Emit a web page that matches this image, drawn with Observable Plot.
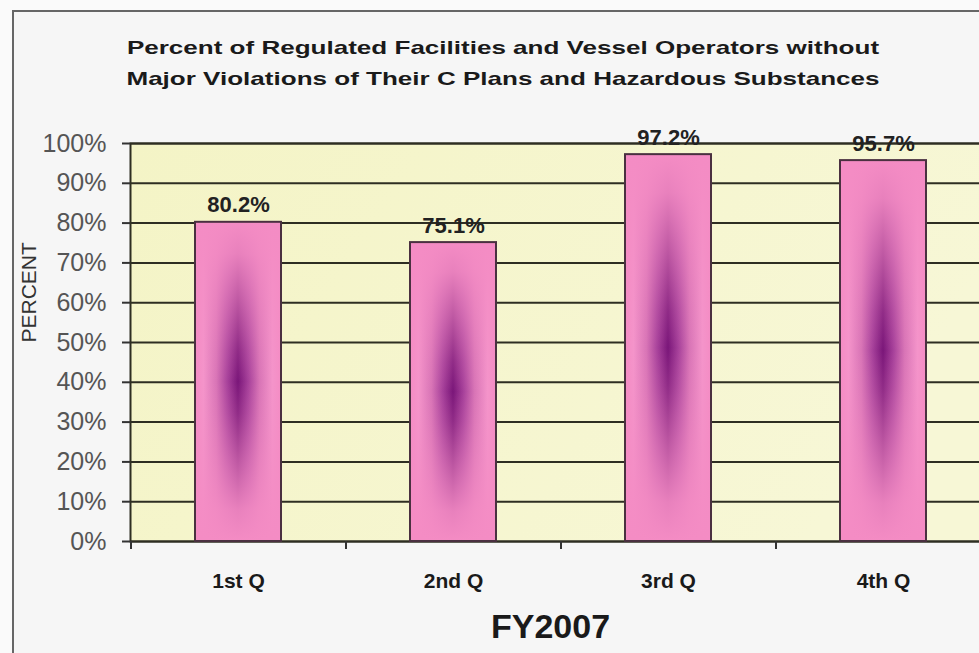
<!DOCTYPE html>
<html>
<head>
<meta charset="utf-8">
<script src="https://cdn.jsdelivr.net/npm/d3@7"></script>
<script src="https://cdn.jsdelivr.net/npm/@observablehq/plot@0.6"></script>
<style>
  html, body { margin: 0; padding: 0; background: #fafafa; }
  #wrap { position: relative; width: 979px; height: 653px; overflow: hidden; font-family: "Liberation Sans", Arial, sans-serif; }
  #panel { position: absolute; left: 12px; top: 10px; right: -5px; bottom: -5px; background: #f6f6f6;
           border-left: 2px solid #666; border-top: 2px solid #666; }
  .title { position: absolute; left: 0; width: 1006px; text-align: center; font-weight: bold; font-size: 19px;
           line-height: 31px; color: #1a1a1a; transform: scaleX(1.37); transform-origin: 503px 0; white-space: nowrap; }
  #plot { position: absolute; left: 0; top: 0; }
  #plot svg { overflow: visible; }
  g[aria-label="y-axis tick"] path, g[aria-label="x-axis tick"] path { stroke: #333; stroke-width: 2; }
</style>
</head>
<body>
<div id="wrap">
  <div id="panel"></div>
  <div class="title" style="top:32px">Percent of Regulated Facilities and Vessel Operators without</div>
  <div class="title" style="top:63px">Major Violations of Their C Plans and Hazardous Substances</div>
  <div id="plot"></div>
</div>
<script>
const quarters = ["1st Q", "2nd Q", "3rd Q", "4th Q"];
const percents = [80.2, 75.1, 97.2, 95.7];
const yTicks = [0, 10, 20, 30, 40, 50, 60, 70, 80, 90, 100];
const xTitle = "FY2007";
const yTitle = "PERCENT";

const data = quarters.map((q, i) => ({q, v: percents[i]}));

const W = 979, H = 653, ML = 130, MR = -11;
const step = (W - ML - MR) / quarters.length;

function defs() {
  const d = d3.create("svg:defs");
  const bg = d.append("linearGradient").attr("id", "bgGrad").attr("x1", 0).attr("y1", 0).attr("x2", 1).attr("y2", 0.3);
  bg.append("stop").attr("offset", 0).attr("stop-color", "#f4f4c6");
  bg.append("stop").attr("offset", 1).attr("stop-color", "#f7f7d6");
  const h = d.append("linearGradient").attr("id", "hGrad").attr("x1", 0).attr("y1", 0).attr("x2", 1).attr("y2", 0);
  [[0, "#f48cc4"], [0.1, "#f494ca"], [0.25, "#d874b6"], [0.38, "#a6409a"], [0.5, "#7a1679"],
   [0.62, "#a6409a"], [0.75, "#d874b6"], [0.9, "#f494ca"], [1, "#f48cc4"]]
    .forEach(([o, c]) => h.append("stop").attr("offset", o).attr("stop-color", c));
  const v = d.append("linearGradient").attr("id", "vGrad").attr("x1", 0).attr("y1", 0).attr("x2", 0).attr("y2", 1);
  [[0, 1], [0.1, 0.9], [0.25, 0.55], [0.4, 0.18], [0.5, 0], [0.6, 0.18], [0.75, 0.55], [0.9, 0.9], [1, 1]]
    .forEach(([o, a]) => v.append("stop").attr("offset", o).attr("stop-color", "#f48cc4").attr("stop-opacity", a));
  return d.node();
}

const chart = Plot.plot({
  width: W,
  height: H,
  marginTop: 143,
  marginBottom: 112,
  marginLeft: ML,
  marginRight: MR,
  style: {background: "transparent", fontFamily: "'Liberation Sans', Arial, sans-serif", overflow: "visible"},
  x: {domain: quarters, paddingInner: 0.6, paddingOuter: 0.3},
  y: {domain: [0, 100]},
  marks: [
    defs,
    Plot.frame({fill: "url(#bgGrad)", stroke: null}),
    Plot.gridY(yTicks, {stroke: "#2e2e22", strokeOpacity: 1, strokeWidth: 2}),
    Plot.frame({stroke: "#2e2e22", strokeWidth: 2}),
    Plot.barY(data, {x: "q", y: "v", fill: "url(#hGrad)"}),
    Plot.barY(data, {x: "q", y: "v", fill: "url(#vGrad)", stroke: "#4a3040", strokeWidth: 2}),
    Plot.text(data, {x: "q", y: "v", text: d => d.v.toFixed(1) + "%", lineAnchor: "bottom", dy: -10,
      fontSize: 22, fontWeight: "bold", fill: "#222"}),
    Plot.axisY({ticks: yTicks, tickFormat: d => d + "%", tickSize: 8, tickPadding: 16, fontSize: 25,
      fill: "#555", label: null}),
    Plot.axisX({tickSize: 8, tickFormat: () => "", dx: -step / 2, label: null}),
    Plot.axisX({tickSize: 0, tickPadding: 32, fontSize: 21, fontWeight: "bold", fill: "#1a1a1a", label: null}),
    Plot.text([yTitle], {frameAnchor: "left", dx: -101, rotate: -90, fontSize: 21, fill: "#333"}),
    Plot.text([xTitle], {frameAnchor: "bottom", dx: 550 - (ML + (W - MR)) / 2, dy: 96, lineAnchor: "bottom",
      fontSize: 34, fontWeight: "bold", fill: "#1a1a1a"})
  ]
});
document.getElementById("plot").appendChild(chart);
</script>
</body>
</html>
